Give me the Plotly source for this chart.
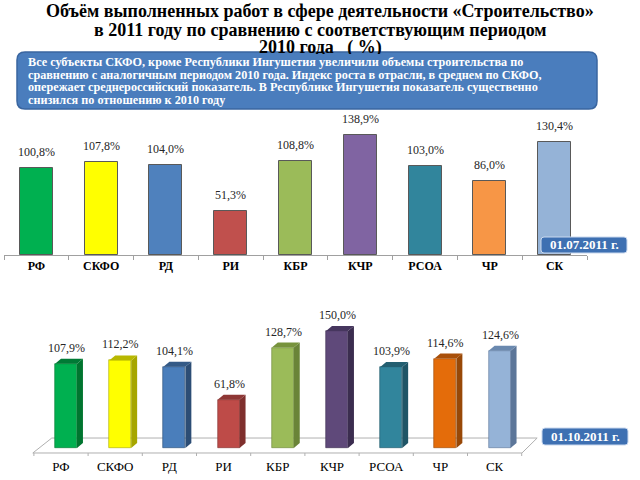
import plotly.graph_objects as go

# ---------------- data ----------------
categories = ["РФ", "СКФО", "РД", "РИ", "КБР", "КЧР", "РСОА", "ЧР", "СК"]
values_jul = [100.8, 107.8, 104.0, 51.3, 108.8, 138.9, 103.0, 86.0, 130.4]
values_oct = [107.9, 112.2, 104.1, 61.8, 128.7, 150.0, 103.9, 114.6, 124.6]

title_lines = [
    "Объём выполненных работ в сфере деятельности «Строительство»",
    "в 2011 году по сравнению с соответствующим периодом",
    "2010 года   ( %)",
]
note_lines = [
    "Все субъекты СКФО, кроме Республики Ингушетия увеличили объемы строительства по",
    "сравнению с аналогичным периодом 2010 года. Индекс роста в отрасли, в среднем по СКФО,",
    "опережает среднероссийский показатель. В Республике Ингушетия показатель существенно",
    "снизился по отношению к 2010 году",
]
date_jul = "01.07.2011 г."
date_oct = "01.10.2011 г."

# ---------------- styles ----------------
SERIF = "Liberation Serif"
W, H = 640, 480
top_colors = ['#00B050', '#FFFF00', '#4F81BD', '#C0504D', '#9BBB59', '#8064A2', '#31859C', '#F79646', '#95B3D7']
bot_front = ['#00B050', '#FFFF00', '#4A7EBB', '#BE4B48', '#9BBB59', '#5F497A', '#31859C', '#E46C0A', '#95B3D7']
bot_side = ['#00752F', '#A6A600', '#2C4D75', '#7F2F2D', '#6A8438', '#3B2D4F', '#1F5566', '#984807', '#5C7699']
bot_top = ['#007A35', '#B8B800', '#345A87', '#8E3735', '#77933C', '#46365E', '#235F71', '#A9500A', '#6A89AF']


def X(p):
    return p / W


def Y(p):
    return 1 - p / H


def fmt(v):
    return f"{v:.1f}".replace(".", ",") + "%"


def rrect(x0, y0, x1, y1, r):
    return (f"M {X(x0+r)},{Y(y0)} L {X(x1-r)},{Y(y0)} Q {X(x1)},{Y(y0)} {X(x1)},{Y(y0+r)} "
            f"L {X(x1)},{Y(y1-r)} Q {X(x1)},{Y(y1)} {X(x1-r)},{Y(y1)} "
            f"L {X(x0+r)},{Y(y1)} Q {X(x0)},{Y(y1)} {X(x0)},{Y(y1-r)} "
            f"L {X(x0)},{Y(y0+r)} Q {X(x0)},{Y(y0)} {X(x0+r)},{Y(y0)} Z")


fig = go.Figure()

# ---------------- top chart (2D) ----------------
fig.add_trace(go.Bar(
    x=categories, y=values_jul, width=0.51,
    marker=dict(color=top_colors, line=dict(color='#595959', width=1)),
    xaxis='x', yaxis='y', hoverinfo='skip', showlegend=False,
))

# ---------------- bottom chart (pseudo 3D) ----------------
idx = list(range(len(categories)))
BAR_OFF, BAR_W = -0.11, 0.405
DX, DY = 0.11, 6.4
fig.add_trace(go.Bar(
    x=idx, y=values_oct, width=BAR_W, offset=BAR_OFF,
    marker=dict(color=bot_front, line=dict(color=bot_side, width=0.6)),
    xaxis='x2', yaxis='y2', hoverinfo='skip', showlegend=False,
))

shapes = []
annotations = []

# floor of 3D chart
YF, YB = -6.4, 12.8
XL, XR = -0.52, 8.505
shapes.append(dict(type='path', xref='x2', yref='y2', layer='below',
                   path=f"M {XL},{YF} L {XR},{YF} L {XR+0.28},{YB} L {XL+0.35},{YB} Z",
                   line=dict(color='#b0b0b0', width=1), fillcolor='rgba(0,0,0,0)'))
for k in range(len(categories) + 1):
    xb = -0.5 + k
    shapes.append(dict(type='line', xref='x2', yref='y2', layer='below',
                       x0=xb, x1=xb, y0=YF, y1=YF - 5,
                       line=dict(color='#b0b0b0', width=1)))

for i, v in enumerate(values_oct):
    xl = i + BAR_OFF
    xr = xl + BAR_W
    shapes.append(dict(type='path', xref='x2', yref='y2', layer='above',
                       path=f"M {xr},0 L {xr+DX},{DY} L {xr+DX},{v+DY} L {xr},{v} Z",
                       fillcolor=bot_side[i], line=dict(width=0)))
    shapes.append(dict(type='path', xref='x2', yref='y2', layer='above',
                       path=f"M {xl},{v} L {xl+DX},{v+DY} L {xr+DX},{v+DY} L {xr},{v} Z",
                       fillcolor=bot_top[i], line=dict(width=0)))
    annotations.append(dict(xref='x2', yref='y2', x=i + 0.1, y=v + DY, yanchor='bottom',
                            yshift=2, text=fmt(v), showarrow=False,
                            font=dict(family=SERIF, size=12, color='#262626')))

for i, v in enumerate(values_jul):
    annotations.append(dict(xref='x', yref='y', x=categories[i], y=v, yanchor='bottom',
                            yshift=7, text=fmt(v), showarrow=False,
                            font=dict(family=SERIF, size=12, color='#262626')))

# ---------------- title ----------------
for j, (t, yc) in enumerate(zip(title_lines, [11, 30, 48])):
    annotations.append(dict(xref='paper', yref='paper', x=0.5, y=Y(yc), xanchor='center',
                            yanchor='middle', text=f"<b>{t}</b>", showarrow=False,
                            font=dict(family=SERIF, size=18, color='#000000')))

# ---------------- note box ----------------
shapes.append(dict(type='path', xref='paper', yref='paper', layer='above',
                   path=rrect(17, 52, 597, 109, 8),
                   fillcolor='#4a7dbd', line=dict(color='#3a66a0', width=1.5)))
annotations.append(dict(xref='paper', yref='paper', x=X(22), y=Y(53.5), xanchor='left',
                        yanchor='top', text=' ', showarrow=False, width=570, height=54,
                        bgcolor='#4a7dbd', borderpad=0, borderwidth=0))
for j, t in enumerate(note_lines):
    annotations.append(dict(xref='paper', yref='paper', x=X(26), y=Y(61.5 + 13 * j),
                            xanchor='left', yanchor='middle', text=f"<b>{t}</b>",
                            showarrow=False,
                            font=dict(family=SERIF, size=12.2, color='#ffffff')))

# ---------------- date boxes ----------------
for (x0, y0, x1, y1, txt) in [(541, 237, 627, 253, date_jul), (542, 428, 628, 445, date_oct)]:
    shapes.append(dict(type='path', xref='paper', yref='paper', layer='above',
                       path=rrect(x0, y0, x1, y1, 3),
                       fillcolor='#3e70b2', line=dict(color='#c9d8ee', width=1)))
    annotations.append(dict(xref='paper', yref='paper', x=X((x0 + x1) / 2), y=Y((y0 + y1) / 2),
                            xanchor='center', yanchor='middle', text=f"<b>{txt}</b>",
                            showarrow=False,
                            font=dict(family=SERIF, size=13, color='#ffffff')))

# ---------------- axes ----------------
TOP_BASE, TOP_TOP, TOP_SCALE = 255, 120, 0.865
BOT_BASE, BOT_DOM_B, BOT_DOM_T, BOT_SCALE = 448, 456, 315, 0.78
CAT_C0, CAT_STEP = 61, 54.2
BX0, BX1 = 20, 560

fig.update_layout(
    width=W, height=H, margin=dict(l=0, r=0, t=0, b=0),
    paper_bgcolor='white', plot_bgcolor='rgba(0,0,0,0)',
    shapes=shapes, annotations=annotations, bargap=0,
    xaxis=dict(domain=[X(4), X(587)], type='category', range=[-0.5, 8.5],
               tickson='boundaries', ticks='outside', ticklen=4, tickcolor='#a0a0a0',
               showline=True, linecolor='#a0a0a0', linewidth=1, showgrid=False,
               tickfont=dict(family=SERIF, size=12, color='#000000', weight='bold'),
               anchor='y', fixedrange=True),
    yaxis=dict(domain=[Y(TOP_BASE), Y(TOP_TOP)], range=[0, (TOP_BASE - TOP_TOP) / TOP_SCALE],
               visible=False, anchor='x', fixedrange=True),
    xaxis2=dict(domain=[X(BX0), X(BX1)],
                range=[(BX0 - CAT_C0) / CAT_STEP, (BX1 - CAT_C0) / CAT_STEP],
                tickmode='array', tickvals=idx, ticktext=categories,
                ticks='', showline=False, showgrid=False, zeroline=False,
                tickfont=dict(family=SERIF, size=13, color='#000000'),
                anchor='y2', fixedrange=True, ticklabelstandoff=1),
    yaxis2=dict(domain=[Y(BOT_DOM_B), Y(BOT_DOM_T)],
                range=[-(BOT_DOM_B - BOT_BASE) / BOT_SCALE, (BOT_BASE - BOT_DOM_T) / BOT_SCALE],
                visible=False, anchor='x2', fixedrange=True),
)

fig.write_html("out.html", config={"displayModeBar": False},
               post_script="document.body.style.margin='0px';")
